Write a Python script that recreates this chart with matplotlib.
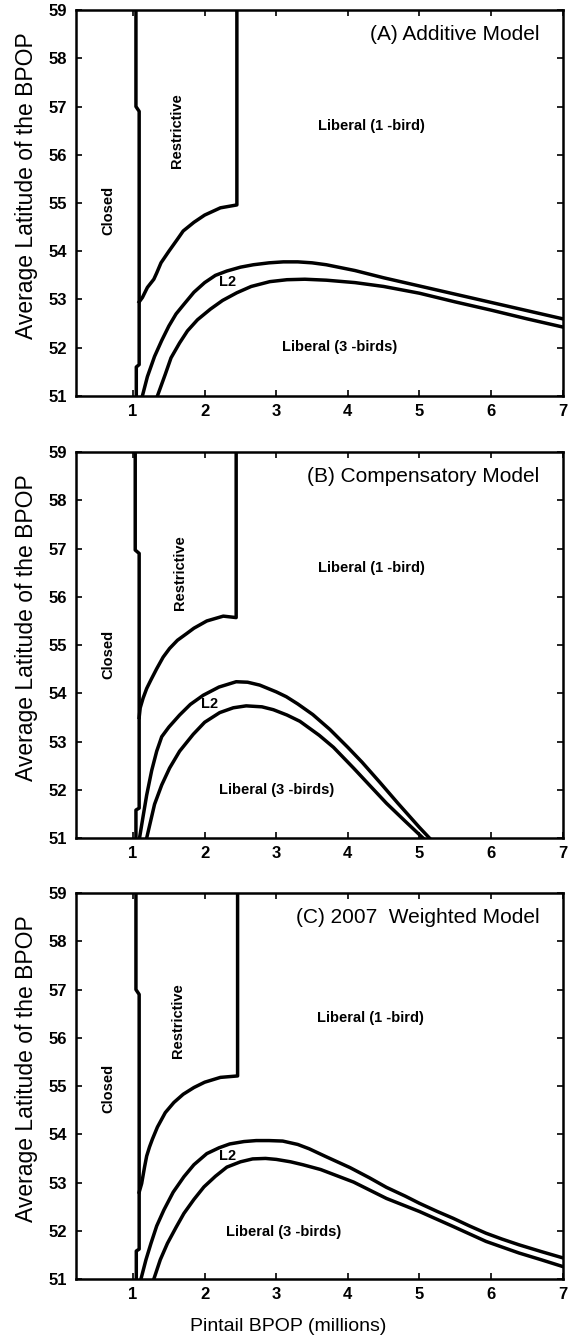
import numpy as np
import matplotlib
matplotlib.use('Agg')
import matplotlib.pyplot as plt

plt.rcParams['font.family'] = ['Liberation Sans', 'DejaVu Sans']

# ---------------- panel A: additive model ----------------
a_closed_x = [1.04, 1.04, 1.085, 1.085, 1.045, 1.045]
a_closed_y = [59.0, 57.0, 56.9, 51.65, 51.6, 51.0]
a_restr_x = [2.45, 2.45, 2.22, 2.0, 1.85, 1.7, 1.62, 1.5, 1.39, 1.33, 1.29, 1.2, 1.13, 1.085]
a_restr_y = [59.0, 54.96, 54.9, 54.75, 54.6, 54.42, 54.25, 54.0, 53.76, 53.55, 53.42, 53.25, 53.04, 52.95]
a_l2_x = [1.13, 1.2, 1.3, 1.4, 1.5, 1.6, 1.71, 1.85, 2.0, 2.15, 2.31, 2.5, 2.68, 2.9, 3.1,
          3.3, 3.5, 3.7, 4.1, 4.5, 5.0, 5.5, 6.0, 6.5, 7.0]
a_l2_y = [51.0, 51.4, 51.82, 52.15, 52.45, 52.7, 52.9, 53.15, 53.35, 53.5, 53.59, 53.67, 53.72, 53.76, 53.78,
          53.78, 53.76, 53.72, 53.6, 53.45, 53.28, 53.11, 52.94, 52.77, 52.6]
a_l3_x = [1.34, 1.45, 1.53, 1.65, 1.76, 1.9, 2.08, 2.25, 2.45, 2.65, 2.91, 3.15, 3.4, 3.7,
          4.1, 4.5, 5.0, 5.5, 6.0, 6.5, 7.0]
a_l3_y = [51.0, 51.45, 51.79, 52.1, 52.35, 52.58, 52.8, 52.98, 53.14, 53.27, 53.37, 53.41, 53.42, 53.4,
          53.35, 53.27, 53.13, 52.95, 52.78, 52.6, 52.43]

# ---------------- panel B: compensatory model ----------------
b_closed_x = [1.03, 1.03, 1.085, 1.085, 1.04, 1.04]
b_closed_y = [59.0, 56.97, 56.9, 51.62, 51.58, 51.0]
b_restr_x = [2.44, 2.44, 2.26, 2.03, 1.85, 1.75, 1.62, 1.51, 1.42, 1.33, 1.25, 1.19, 1.14, 1.1, 1.085]
b_restr_y = [59.0, 55.57, 55.6, 55.5, 55.35, 55.24, 55.1, 54.93, 54.75, 54.51, 54.28, 54.1, 53.9, 53.7, 53.5]
b_l2_x = [1.09, 1.14, 1.19, 1.26, 1.33, 1.4, 1.5, 1.65, 1.8, 1.98, 2.2, 2.44, 2.6, 2.77, 3.0,
          3.14, 3.3, 3.51, 3.75, 4.0, 4.2, 4.45, 4.7, 5.0, 5.14]
b_l2_y = [51.0, 51.45, 51.89, 52.4, 52.8, 53.1, 53.3, 53.55, 53.77, 53.96, 54.13, 54.24, 54.23, 54.17, 54.03,
          53.93, 53.78, 53.56, 53.25, 52.88, 52.57, 52.15, 51.72, 51.22, 51.0]
b_l3_x = [1.19, 1.3, 1.4, 1.51, 1.65, 1.84, 2.0, 2.21, 2.4, 2.58, 2.8, 2.96, 3.15, 3.33, 3.6,
          3.8, 4.08, 4.3, 4.54, 4.8, 5.05]
b_l3_y = [51.0, 51.7, 52.1, 52.45, 52.8, 53.15, 53.4, 53.6, 53.7, 53.74, 53.72, 53.66, 53.55, 53.42, 53.13,
          52.88, 52.45, 52.1, 51.72, 51.35, 51.0]

# ---------------- panel C: 2007 weighted model ----------------
c_closed_x = [1.04, 1.04, 1.085, 1.085, 1.045, 1.045]
c_closed_y = [59.0, 57.0, 56.9, 51.62, 51.58, 51.0]
c_restr_x = [2.46, 2.46, 2.22, 2.0, 1.85, 1.7, 1.57, 1.45, 1.34, 1.27, 1.23, 1.19, 1.16, 1.12, 1.085]
c_restr_y = [59.0, 55.21, 55.18, 55.08, 54.97, 54.83, 54.66, 54.45, 54.15, 53.9, 53.74, 53.55, 53.32, 52.98, 52.8]
c_l2_x = [1.11, 1.18, 1.25, 1.33, 1.43, 1.56, 1.71, 1.85, 2.03, 2.2, 2.35, 2.55, 2.72, 2.9, 3.09,
          3.3, 3.46, 3.69, 4.03, 4.3, 4.54, 4.8, 5.0, 5.25, 5.47, 5.7, 5.93, 6.15, 6.39, 6.7, 7.0]
c_l2_y = [51.0, 51.4, 51.74, 52.1, 52.43, 52.8, 53.12, 53.37, 53.6, 53.72, 53.8, 53.85, 53.87, 53.87, 53.86,
          53.79, 53.7, 53.54, 53.31, 53.1, 52.9, 52.72, 52.57, 52.4, 52.26, 52.1, 51.95, 51.83, 51.71, 51.57, 51.44]
c_l3_x = [1.29, 1.38, 1.48, 1.6, 1.71, 1.85, 1.99, 2.15, 2.31, 2.5, 2.67, 2.85, 3.0, 3.2, 3.37,
          3.62, 4.08, 4.54, 5.0, 5.47, 5.93, 6.39, 6.7, 7.0]
c_l3_y = [51.0, 51.4, 51.74, 52.07, 52.36, 52.65, 52.91, 53.13, 53.32, 53.43, 53.49, 53.5, 53.48, 53.43, 53.37,
          53.27, 53.01, 52.67, 52.4, 52.09, 51.78, 51.54, 51.4, 51.26]

titles = ['(A) Additive Model', '(B) Compensatory Model', '(C) 2007  Weighted Model']

# label positions (data coords) for each panel
lib1_pos = [(4.33, 56.6), (4.33, 56.6), (4.31, 56.42)]
restr_pos = [(1.62, 56.5), (1.65, 56.5), (1.63, 56.35)]
closed_pos = [(0.65, 54.85), (0.65, 54.8), (0.65, 54.95)]
l2_pos = [(2.32, 53.37), (2.07, 53.78), (2.32, 53.55)]
lib3_pos = [(3.89, 52.02), (3.0, 52.0), (3.11, 51.97)]

panels = [
    (a_closed_x, a_closed_y, a_restr_x, a_restr_y, a_l2_x, a_l2_y, a_l3_x, a_l3_y),
    (b_closed_x, b_closed_y, b_restr_x, b_restr_y, b_l2_x, b_l2_y, b_l3_x, b_l3_y),
    (c_closed_x, c_closed_y, c_restr_x, c_restr_y, c_l2_x, c_l2_y, c_l3_x, c_l3_y),
]

fig = plt.figure(figsize=(5.7, 13.4), dpi=100)
bottoms = [0.7045, 0.3746, 0.0455]
lw = 2.5

for i, p in enumerate(panels):
    ax = fig.add_axes([0.133, bottoms[i], 0.854, 0.288])
    cx, cy, rx, ry, l2x, l2y, l3x, l3y = p
    for xs, ys in [(cx, cy), (rx, ry), (l2x, l2y), (l3x, l3y)]:
        ax.plot(xs, ys, color='black', lw=lw, solid_joinstyle='round')

    ax.set_xlim(0.2, 7)
    ax.set_ylim(51, 59)
    ax.set_xticks(range(1, 8))
    ax.set_yticks(range(51, 60))
    ax.tick_params(direction='in', top=True, right=True, length=4, width=1.2,
                   labelsize=12, pad=6)
    for lab in ax.get_xticklabels() + ax.get_yticklabels():
        lab.set_fontweight('bold')
    for s in ax.spines.values():
        s.set_linewidth(1.8)

    ax.set_ylabel('Average Latitude of the BPOP', fontsize=16.5)
    ax.yaxis.set_label_coords(-0.078, 0.545)

    ax.text(0.953, 0.937, titles[i], transform=ax.transAxes, ha='right', va='center', fontsize=15)
    ax.text(*lib1_pos[i], 'Liberal (1 -bird)', ha='center', va='center', fontsize=10.5, fontweight='bold')
    ax.text(*restr_pos[i], 'Restrictive', ha='center', va='center', fontsize=10.5, fontweight='bold', rotation=90)
    ax.text(*closed_pos[i], 'Closed', ha='center', va='center', fontsize=10.5, fontweight='bold', rotation=90)
    ax.text(*l2_pos[i], 'L2', ha='center', va='center', fontsize=10.5, fontweight='bold')
    ax.text(*lib3_pos[i], 'Liberal (3 -birds)', ha='center', va='center', fontsize=10.5, fontweight='bold')

    if i == 2:
        ax.set_xlabel('Pintail BPOP (millions)', fontsize=14)
        ax.xaxis.set_label_coords(0.437, -0.1)

fig.savefig('out.png', dpi=100)
